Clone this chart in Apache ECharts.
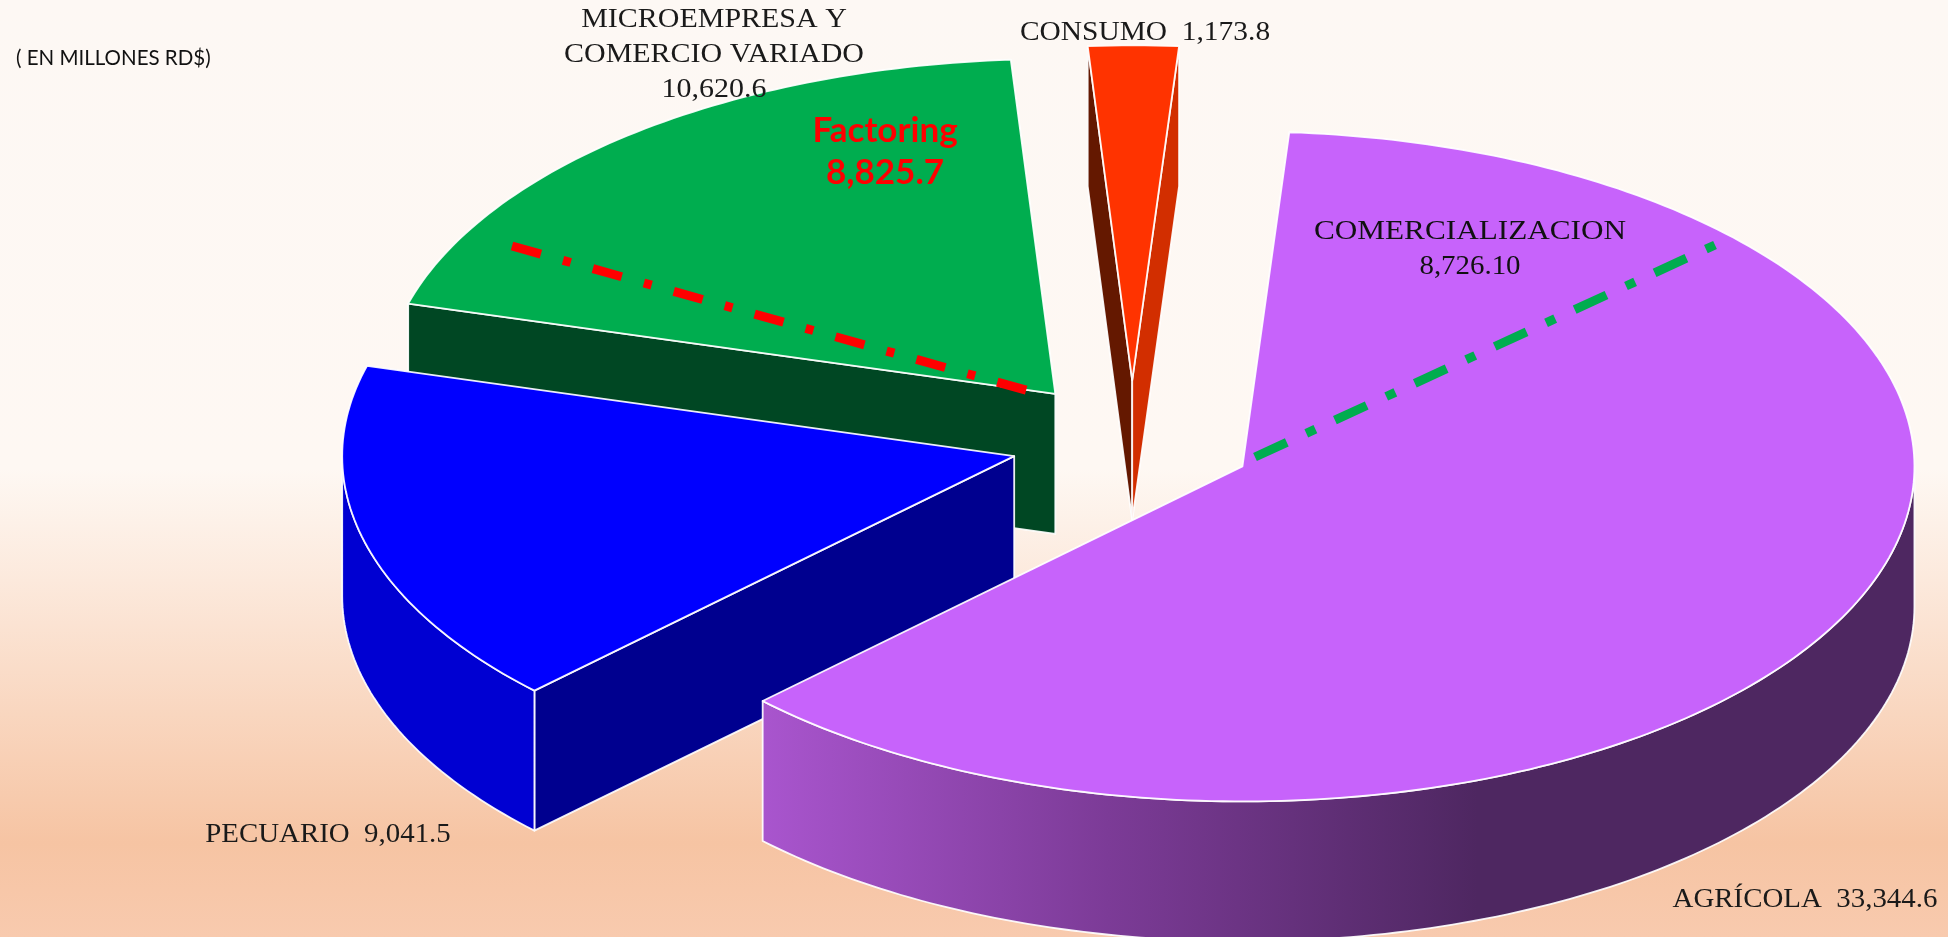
<!DOCTYPE html>
<html>
<head>
<meta charset="utf-8">
<style>html,body{margin:0;padding:0;background:#fff}#c{width:1948px;height:937px}</style>
<script src="https://cdn.jsdelivr.net/npm/echarts@6/dist/echarts.min.js"></script>
</head>
<body>
<div id="c"></div>
<script>
// ---- data ----
const categories = ['AGRÍCOLA', 'PECUARIO', 'MICROEMPRESA Y\nCOMERCIO VARIADO', 'CONSUMO'];
const values = [33344.6, 9041.5, 10620.6, 1173.8];
const subCategories = ['COMERCIALIZACION', 'Factoring'];
const subValues = ['8,726.10', '8,825.7'];
const unitNote = '( EN MILLONES RD$)';

// ---- colours ----
const topColors = ['#c763fb', '#0000ff', '#00ad4f', '#ff3300'];
const startFaceColors = [null, '#00008f', '#004723', '#641800'];
const endFaceColors = [null, null, null, '#d22e00'];
const wallColors = [
  {type:'linear', x:0, y:0, x2:1, y2:0, global:false, colorStops:[
    {offset:0,color:'#a955ce'},{offset:0.3,color:'#7c3b97'},{offset:0.62,color:'#4e2761'},{offset:1,color:'#4e2761'}]},
  '#0000d2', '#004723', '#d22e00'
];

// ---- pie geometry ----
const pie = {cx:1132, cy:441, rx:672, ry:335, depth:140, explode:0.181, start:-86};

// ---- annotation layout ----
const labelPos = [[1805,900],[328,835],[714,54],[1145,33]];
const labelStretch = [1.07,1.07,1.11,1.09];
const subLabelPos = [[1470,232,267],[885,131,173]];
const redLine = [[512,246],[1029,391]];
const greenLine = [[1255,457],[1715,245]];

const total = values.reduce((a,b)=>a+b,0);
const rad = d => d*Math.PI/180;
const fmt = v => v.toLocaleString('en-US',{minimumFractionDigits:1,maximumFractionDigits:1});

let acc = pie.start;
const slices = values.map(v => {
  const a = acc, b = acc + v/total*360; acc = b;
  const m = rad((a+b)/2);
  return {a, b, cx: pie.cx + pie.explode*pie.rx*Math.cos(m), cy: pie.cy + pie.explode*pie.ry*Math.sin(m)};
});

function rim(s, t, depth){
  return [s.cx + pie.rx*Math.cos(rad(t)), s.cy + pie.ry*Math.sin(rad(t)) + depth];
}
function arc(s, from, to, depth){
  const pts = [], n = Math.max(2, Math.ceil(Math.abs(to-from)));
  for(let i=0;i<=n;i++) pts.push(rim(s, from+(to-from)*i/n, depth));
  return pts;
}
const edge = {stroke:'rgba(255,255,255,0.92)', lineWidth:1.8, lineJoin:'round'};

function renderSlice(params, api){
  const i = api.value(0), s = slices[i];
  const toPx = p => api.coord(p);
  const poly = (pts, fill) => ({type:'polygon', shape:{points:pts.map(toPx)}, style:Object.assign({fill}, edge)});
  const children = [];
  const apexTop = [s.cx, s.cy], apexBot = [s.cx, s.cy+pie.depth];
  if(Math.cos(rad(s.a))<0 && startFaceColors[i])
    children.push(poly([rim(s,s.a,0), apexTop, apexBot, rim(s,s.a,pie.depth)], startFaceColors[i]));
  if(Math.cos(rad(s.b))>0 && endFaceColors[i])
    children.push(poly([rim(s,s.b,0), apexTop, apexBot, rim(s,s.b,pie.depth)], endFaceColors[i]));
  const wa = Math.max(s.a,0), wb = Math.min(s.b,180);
  if(wb>wa){
    children.push(poly(arc(s,wa,wb,0).concat(arc(s,wb,wa,pie.depth)), wallColors[i]));
  }
  children.push(poly([apexTop].concat(arc(s,s.a,s.b,0)), topColors[i]));
  return {type:'group', children};
}

const serif = '"Liberation Serif", serif';
const sans = 'Lato, sans-serif';
const textItem = (api, x, y, text, font, sx) => {
  const p = api.coord([x,y]);
  return {
    type:'text', x:p[0], y:p[1], scaleX:sx||1, scaleY:1,
    style:Object.assign({text, x:0, y:0, align:'center', verticalAlign:'middle'}, font)
  };
};
const serifFont = {font:'27px '+serif, fill:'#1a1a1a'};
function renderLabel(params, api){
  const i = api.value(0);
  const p = labelPos[i], sx = labelStretch[i];
  if(i===2){
    const lines = categories[2].split('\n').concat(fmt(values[2]));
    return {type:'group', children:lines.map((t,k)=>textItem(api,p[0],p[1]-34+k*35,t,serifFont,sx))};
  }
  return textItem(api,p[0],p[1],categories[i]+'  '+fmt(values[i]),serifFont,sx);
}
function renderSub(params, api){
  const i = api.value(0), p = subLabelPos[i];
  const font = i===0 ? {font:'27px '+serif, fill:'#111'} : {font:'bold 35px '+sans, fill:'#ff0000'};
  return {type:'group', children:[
    textItem(api,p[0],p[1],subCategories[i],font,i===0?1.156:1),
    textItem(api,p[0],p[2],subValues[i],font,i===0?1.07:1)
  ]};
}

const chart = echarts.init(document.getElementById('c'), null, {renderer:'canvas'});
chart.setOption({
  animation:false,
  backgroundColor:{type:'linear',x:0,y:0,x2:0,y2:1,colorStops:[
    {offset:0,color:'#fdf8f4'},{offset:0.5,color:'#fef8f3'},{offset:0.62,color:'#fce9dc'},
    {offset:0.9,color:'#f6c4a3'},{offset:1,color:'#f8caae'}]},
  grid:{left:0,right:0,top:0,bottom:0},
  xAxis:{type:'value',min:0,max:1948,show:false},
  yAxis:{type:'value',min:0,max:937,inverse:true,show:false},
  tooltip:{show:false},
  series:[
    {type:'custom',coordinateSystem:'cartesian2d',clip:true,z:2,silent:true,
     renderItem:renderSlice,
     data:[3,2,1,0].map(i=>({value:[i,values[i]],name:categories[i]}))},
    {type:'line',z:3,silent:true,symbol:'none',data:redLine,
     lineStyle:{color:'#ff0000',width:9,type:[30,23,8,23],cap:'butt'}},
    {type:'line',z:3,silent:true,symbol:'none',data:greenLine,
     lineStyle:{color:'#00ad4f',width:9,type:[35,21.5,10,21.5],cap:'butt'}},
    {type:'custom',coordinateSystem:'cartesian2d',clip:false,z:4,silent:true,
     renderItem:renderLabel,data:[0,1,2,3].map(i=>[i])},
    {type:'custom',coordinateSystem:'cartesian2d',clip:false,z:4,silent:true,
     renderItem:renderSub,data:[0,1].map(i=>[i])},
  ],
  graphic:[{type:'text',left:16,top:48,z:10,silent:true,
    style:{text:unitNote,font:'20.5px '+sans,fill:'#111'}}]
});
</script>
</body>
</html>
